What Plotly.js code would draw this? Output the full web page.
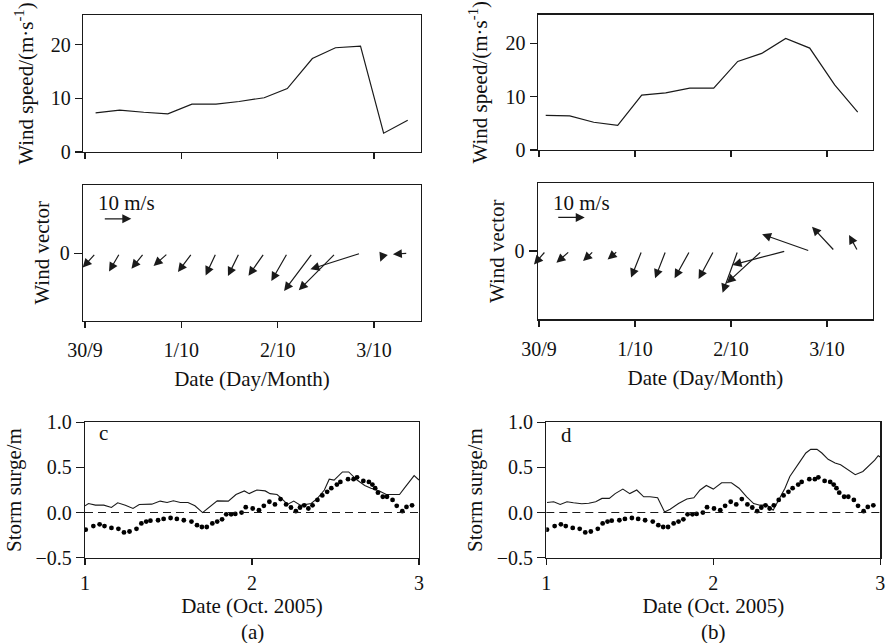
<!DOCTYPE html>
<html><head><meta charset="utf-8">
<script src="https://cdn.plot.ly/plotly-3.0.1.min.js"></script>
<style>html,body{margin:0;padding:0;background:#fff}</style>
</head><body><div id="chart" style="width:894px;height:643px"></div>
<script>
// ---------- DATA ----------
// wind (days after 30/9 00:00)
const dayTicks = [0, 1, 2, 3];
const dayLabels = ['30/9', '1/10', '2/10', '3/10'];

const timeA  = [0.11, 0.36, 0.61, 0.86, 1.11, 1.36, 1.60, 1.86, 2.10, 2.36, 2.60, 2.86, 3.10, 3.35];
const speedA = [7.3, 7.8, 7.4, 7.1, 8.9, 8.9, 9.4, 10.1, 11.8, 17.4, 19.4, 19.7, 3.5, 5.9];
const uA     = [-4.6, -3.8, -4.4, -5.1, -5.0, -3.7, -4.0, -5.6, -5.7, -10.1, -13.1, -17.9, -1.2, -5.3];
const vA     = [-5.1, -6.5, -5.5, -4.5, -6.7, -7.9, -8.1, -8.0, -9.9, -13.5, -13.2, -5.7, -3.0, -0.3];

const timeB  = [0.07, 0.32, 0.57, 0.82, 1.07, 1.32, 1.57, 1.82, 2.07, 2.32, 2.57, 2.82, 3.08, 3.32];
const speedB = [6.5, 6.4, 5.2, 4.6, 10.3, 10.7, 11.6, 11.6, 16.6, 18.1, 20.9, 19.1, 12.2, 7.1];
const uB     = [-4.2, -4.75, -3.8, -3.6, -3.8, -3.8, -5.4, -5.4, -5.4, -12.5, -19.0, -17.0, -8.1, -3.1];
const vB     = [-4.8, -4.2, -3.6, -3.0, -9.5, -9.75, -9.75, -10.0, -14.9, -11.5, -5.0, 6.0, 8.7, 5.7];

const refSpeed = 10;   // reference arrow, m/s

// storm surge (hours after 1 Oct 2005 00:00)
const obsHour  = [0.1, 1.2, 2.1, 2.8, 3.8, 4.8, 5.6, 6.4, 7.4, 8.1, 8.8, 9.4, 10.5, 11.3, 12.3, 13.2, 14.2, 15.3, 16.1, 16.8,
                  17.5, 18.3, 19.0, 19.7, 20.3, 21.0, 21.6, 22.5, 23.1, 24.1, 25.0, 25.7, 26.5, 27.3, 28.1, 28.9, 29.6, 30.3,
                  30.9, 31.5, 32.1, 32.7, 33.4, 34.1, 34.8, 35.4, 36.2, 36.7, 37.8, 38.6, 39.1, 40.0, 40.8, 41.3, 41.7, 42.1,
                  42.8, 43.4, 44.2, 44.8, 45.6, 46.2, 47.0];
const obsSurge = [-0.19, -0.15, -0.13, -0.15, -0.17, -0.18, -0.22, -0.21, -0.18, -0.12, -0.10, -0.09, -0.085, -0.07, -0.06, -0.07, -0.085, -0.10, -0.14, -0.16,
                  -0.16, -0.12, -0.10, -0.075, -0.02, -0.02, -0.015, 0.0, 0.06, 0.045, 0.026, 0.075, 0.12, 0.09, 0.15, 0.09, 0.056, 0.015,
                  0.056, 0.08, 0.045, 0.08, 0.14, 0.19, 0.23, 0.27, 0.31, 0.34, 0.37, 0.37, 0.39, 0.35, 0.34, 0.31, 0.27, 0.22,
                  0.175, 0.175, 0.14, 0.075, 0.015, 0.063, 0.08];

const modelHourC  = [0, 0.5, 1.5, 2.7, 3.8, 4.7, 5.8, 6.9, 7.8, 9.6, 10.8, 11.8, 12.7, 13.7, 14.8, 15.8, 16.9, 18.0, 19.0, 20.6,
                     21.7, 22.9, 23.6, 24.7, 25.9, 26.6, 27.6, 28.2, 29.1, 30.0, 31.0, 32.5, 33.4, 34.4, 35.1, 35.8, 37.0, 37.9,
                     39.1, 40.2, 41.1, 42.3, 43.3, 44.0, 45.2, 45.9, 47.3, 48.0];
const modelSurgeC = [0.075, 0.10, 0.082, 0.082, 0.056, 0.108, 0.082, 0.045, 0.09, 0.093, 0.127, 0.112, 0.13, 0.112, 0.112, 0.075, 0.0, 0.063, 0.13, 0.127,
                     0.20, 0.24, 0.21, 0.25, 0.24, 0.21, 0.20, 0.16, 0.09, 0.127, 0.08, 0.10, 0.157, 0.25, 0.37, 0.36, 0.45, 0.45,
                     0.36, 0.30, 0.27, 0.24, 0.20, 0.20, 0.20, 0.27, 0.41, 0.36];

const modelHourD  = [0.1, 1.06, 2.0, 2.97, 3.9, 5.1, 6.1, 7.1, 8.0, 9.05, 9.9, 11.0, 12.0, 13.0, 14.0, 14.9, 16.0, 17.0, 17.8, 19.0,
                     20.2, 21.2, 22.1, 23.0, 24.0, 25.2, 26.6, 27.7, 28.8, 29.8, 30.7, 31.7, 32.6, 33.3, 34.3, 35.0, 35.7, 36.5,
                     37.3, 38.0, 38.9, 39.6, 40.5, 41.5, 42.3, 43.4, 44.4, 45.5, 46.3, 47.2, 47.7, 48.0];
const modelSurgeD = [0.112, 0.12, 0.09, 0.12, 0.108, 0.097, 0.104, 0.12, 0.157, 0.157, 0.21, 0.26, 0.21, 0.25, 0.175, 0.175, 0.164, 0.007, 0.037, 0.10,
                     0.15, 0.164, 0.25, 0.30, 0.26, 0.33, 0.33, 0.27, 0.175, 0.10, 0.082, 0.082, 0.026, 0.12, 0.27, 0.40, 0.485, 0.57,
                     0.66, 0.70, 0.70, 0.66, 0.59, 0.55, 0.53, 0.47, 0.42, 0.455, 0.51, 0.58, 0.63, 0.615];

const surgeTicks = [-0.5, 0, 0.5, 1.0];
const octTicks = [1, 2, 3];

// ---------- LAYOUT HELPERS ----------
const W = 894, H = 643;
const fx = (a, b) => [a / W, b / W];
const fy = (top, bot) => [1 - bot / H, 1 - top / H];
const FONT = 'Liberation Serif, Times New Roman, serif';
const INK = '#1a1a1a';
const TICK = 20, TTL = 21;
const tfont = () => ({family: FONT, size: TTL, color: '#111'});

const base = {
  showline: true, mirror: true, linecolor: INK, linewidth: 1.2,
  ticks: 'outside', tickcolor: INK, ticklen: 6, tickwidth: 1.2,
  showgrid: false, zeroline: false, fixedrange: true,
  tickfont: {family: FONT, size: TICK, color: '#111'}
};
const ax = (o) => Object.assign({}, JSON.parse(JSON.stringify(base)), o);

// column geometry (pixels)
const colA = {x0: 83, x1: 421, tick0: 85, tick3: 374};
const colB = {x0: 537.7, x1: 873, tick0: 539, tick3: 827};
const arrowPx = 2.8; // px per m/s

function dayRange(c) {
  const ppd = (c.tick3 - c.tick0) / 3;
  return {ppd: ppd, range: [(c.x0 - c.tick0) / ppd, (c.x1 - c.tick0) / ppd]};
}
const dA = dayRange(colA), dB = dayRange(colB);

// vector panels: y in m/s with same pixel scale as arrows
const vecA = {top: 185, bot: 320.7, zero: 253.3};
const vecB = {top: 183.3, bot: 319.3, zero: 251};
const vRange = (p) => [-(p.bot - p.zero) / arrowPx, (p.zero - p.top) / arrowPx];

const traces = [
  {x: timeA, y: speedA, xaxis: 'x', yaxis: 'y', mode: 'lines', line: {color: INK, width: 1.2}, hoverinfo: 'skip'},
  {x: timeB, y: speedB, xaxis: 'x3', yaxis: 'y3', mode: 'lines', line: {color: INK, width: 1.2}, hoverinfo: 'skip'},
  // invisible anchors for vector panels
  {x: timeA, y: timeA.map(() => 0), xaxis: 'x2', yaxis: 'y2', mode: 'markers', marker: {opacity: 0}, hoverinfo: 'skip'},
  {x: timeB, y: timeB.map(() => 0), xaxis: 'x4', yaxis: 'y4', mode: 'markers', marker: {opacity: 0}, hoverinfo: 'skip'},
  // storm surge
  {x: modelHourC.map(h => 1 + h / 24), y: modelSurgeC, xaxis: 'x5', yaxis: 'y5', mode: 'lines', line: {color: INK, width: 1.1}, hoverinfo: 'skip'},
  {x: obsHour.map(h => 1 + h / 24), y: obsSurge, xaxis: 'x5', yaxis: 'y5', mode: 'markers', marker: {color: '#000', size: 4.8}, hoverinfo: 'skip'},
  {x: modelHourD.map(h => 1 + h / 24), y: modelSurgeD, xaxis: 'x6', yaxis: 'y6', mode: 'lines', line: {color: INK, width: 1.1}, hoverinfo: 'skip'},
  {x: obsHour.map(h => 1 + h / 24), y: obsSurge, xaxis: 'x6', yaxis: 'y6', mode: 'markers', marker: {color: '#000', size: 4.8}, hoverinfo: 'skip'}
];

const annotations = [];
const arrowStyle = {showarrow: true, arrowhead: 2, arrowsize: 1.5, arrowwidth: 1.2, arrowcolor: INK, standoff: 0, startstandoff: 0};
function addArrows(times, u, v, xr, yr, ppd) {
  const k = arrowPx / ppd;
  times.forEach((t, i) => {
    annotations.push(Object.assign({
      xref: xr, yref: yr, axref: xr, ayref: yr,
      x: t + u[i] * k, y: v[i], ax: t, ay: 0, text: ''
    }, arrowStyle));
  });
}
addArrows(timeA, uA, vA, 'x2', 'y2', dA.ppd);
addArrows(timeB, uB, vB, 'x4', 'y4', dB.ppd);

// reference arrows
function addRef(xr, yr, ppd, tx, ty, lx, ly) {
  const k = arrowPx / ppd;
  annotations.push(Object.assign({xref: xr, yref: yr, axref: xr, ayref: yr, x: tx + refSpeed * k, y: ty, ax: tx, ay: ty, text: ''}, arrowStyle));
  annotations.push({xref: xr, yref: yr, x: lx, y: ly, text: refSpeed + ' m/s', showarrow: false,
    xanchor: 'left', yanchor: 'middle', font: {family: FONT, size: TTL, color: '#111'}});
}
addRef('x2', 'y2', dA.ppd, 0.19, 12.3, 0.11, 18);
addRef('x4', 'y4', dB.ppd, 0.185, 12.0, 0.12, 17);

// panel letters and captions
annotations.push({xref: 'x5 domain', yref: 'paper', x: 0.035, y: 1 - 433 / H, text: 'c', showarrow: false,
  xanchor: 'left', yanchor: 'middle', font: {family: FONT, size: TTL, color: '#111'}});
annotations.push({xref: 'x6 domain', yref: 'paper', x: 0.038, y: 1 - 435 / H, text: 'd', showarrow: false,
  xanchor: 'left', yanchor: 'middle', font: {family: FONT, size: TTL, color: '#111'}});
annotations.push({xref: 'x5 domain', yref: 'paper', x: 0.5, y: 1 - 632 / H, text: '(a)', showarrow: false,
  xanchor: 'center', yanchor: 'middle', font: {family: FONT, size: TTL, color: '#111'}});
annotations.push({xref: 'x6 domain', yref: 'paper', x: 0.5, y: 1 - 632 / H, text: '(b)', showarrow: false,
  xanchor: 'center', yanchor: 'middle', font: {family: FONT, size: TTL, color: '#111'}});

const shapes = [
  {type: 'line', xref: 'x5 domain', yref: 'y5', x0: 0, x1: 1, y0: 0, y1: 0, line: {color: INK, width: 1.1, dash: '8px,5px'}},
  {type: 'line', xref: 'x6 domain', yref: 'y6', x0: 0, x1: 1, y0: 0, y1: 0, line: {color: INK, width: 1.1, dash: '8px,5px'}}
];

const speedTitle = 'Wind speed/(m·s<sup>-1</sup>)';
const layout = {
  width: W, height: H, margin: {l: 0, r: 0, t: 0, b: 0},
  paper_bgcolor: '#fff', plot_bgcolor: '#fff', showlegend: false,
  font: {family: FONT, color: '#111'},
  // top-left wind speed
  xaxis: ax({domain: fx(colA.x0, colA.x1), range: dA.range, tickvals: dayTicks, showticklabels: false, anchor: 'y'}),
  yaxis: ax({domain: fy(15, 152), range: [0, 25.5], tickvals: [0, 10, 20], anchor: 'x', ticklen: 7,
    title: {text: speedTitle, standoff: 11, font: tfont()}}),
  // mid-left vector
  xaxis2: ax({domain: fx(colA.x0, colA.x1), range: dA.range, tickvals: dayTicks, ticktext: dayLabels, anchor: 'y2',
    ticklabelstandoff: 5, title: {text: 'Date (Day/Month)', standoff: 11, font: tfont()}}),
  yaxis2: ax({domain: fy(vecA.top, vecA.bot), range: vRange(vecA), tickvals: [0], ticktext: ['0'], anchor: 'x2', ticklen: 8,
    title: {text: 'Wind vector', standoff: 4, font: tfont()}}),
  // top-right
  xaxis3: ax({domain: fx(colB.x0, colB.x1), range: dB.range, tickvals: dayTicks, showticklabels: false, anchor: 'y3'}),
  yaxis3: ax({domain: fy(14.5, 150), range: [0, 25.4], tickvals: [0, 10, 20], anchor: 'x3', ticklen: 7,
    title: {text: speedTitle, standoff: 12, font: tfont()}}),
  // mid-right
  xaxis4: ax({domain: fx(colB.x0, colB.x1), range: dB.range, tickvals: dayTicks, ticktext: dayLabels, anchor: 'y4',
    ticklabelstandoff: 5, title: {text: 'Date (Day/Month)', standoff: 11, font: tfont()}}),
  yaxis4: ax({domain: fy(vecB.top, vecB.bot), range: vRange(vecB), tickvals: [0], ticktext: ['0'], anchor: 'x4', ticklen: 8,
    title: {text: 'Wind vector', standoff: 4, font: tfont()}}),
  // bottom-left surge
  xaxis5: ax({domain: fx(85, 419), range: [1, 3], tickvals: octTicks, anchor: 'y5', ticklabelstandoff: 1,
    title: {text: 'Date (Oct. 2005)', standoff: 1, font: tfont()}}),
  yaxis5: ax({domain: fy(422.3, 557.7), range: [-0.5, 1.0], tickvals: surgeTicks, tickformat: '.1f', anchor: 'x5', ticklen: 8,
    title: {text: 'Storm surge/m', standoff: 8, font: tfont()}}),
  // bottom-right surge
  xaxis6: ax({domain: fx(546.3, 880.3), range: [1, 3], tickvals: octTicks, anchor: 'y6', ticklabelstandoff: 1,
    title: {text: 'Date (Oct. 2005)', standoff: 1, font: tfont()}}),
  yaxis6: ax({domain: fy(422.3, 557.7), range: [-0.5, 1.0], tickvals: surgeTicks, tickformat: '.1f', anchor: 'x6', ticklen: 8,
    title: {text: 'Storm surge/m', standoff: 8, font: tfont()}}),
  annotations: annotations,
  shapes: shapes
};

Plotly.newPlot('chart', traces, layout, {staticPlot: true, displayModeBar: false});
</script>
</body></html>
